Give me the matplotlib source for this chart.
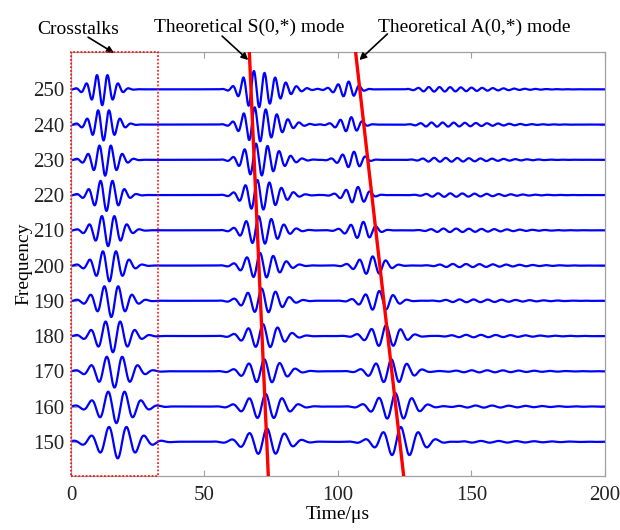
import numpy as np
import matplotlib
matplotlib.use('Agg')
import matplotlib.pyplot as plt
from matplotlib.patches import Rectangle

plt.rcParams['font.family'] = ['Liberation Serif', 'DejaVu Serif']

# excitation frequencies (kHz), one trace each, baseline = frequency
freqs = [150, 160, 170, 180, 190, 200, 210, 220, 230, 240, 250]
# crosstalk burst (centre us, amplitude)
ct_center = [17.5, 17.0, 16.3, 15.7, 15.1, 14.4, 13.9, 13.3, 12.8, 12.2, 11.7]
ct_amp = [4.7, 4.7, 4.6, 4.6, 4.6, 4.5, 4.5, 4.5, 4.5, 4.5, 4.5]
# S0 packet (centre us, amplitude, decay width us)
s0_center = [73.4, 72.9, 72.4, 71.9, 71.4, 70.8, 70.3, 69.8, 69.3, 68.8, 68.5]
s0_amp = [3.8, 3.6, 3.4, 3.4, 3.5, 3.6, 4.0, 4.3, 4.6, 4.9, 5.2]
s0_fall = [9.5, 9.5, 9.5, 9.5, 9.5, 9.5, 10.0, 10.5, 11.0, 11.5, 12.0]
# A0 packet
a0_center = [123.5, 121.5, 120.0, 118.0, 115.5, 113.0, 109.5, 107.5, 106.0, 105.0, 104.0]
a0_amp = [4.2, 3.8, 3.4, 3.1, 2.8, 2.6, 2.4, 2.3, 2.3, 2.1, 2.2]
a0_fall = [10.0, 9.0, 8.5, 8.0, 7.0, 6.5, 5.5, 5.0, 4.5, 4.5, 4.5]
# late low-level ringing after A0
ring_amp = [0.25, 0.3, 0.3, 0.35, 0.4, 0.45, 0.5, 0.5, 0.55, 0.6, 0.65]

# theoretical arrival lines: (time at top, time at bottom)
s0_line_t = [66.8, 73.9]
a0_line_t = [106.6, 124.6]
line_f = [260.5, 140.3]

crosstalk_end = 32.5

t = np.linspace(0, 200, 4001)


def packet(f, c, amp, fall, sign=1.0):
    rise = 1500.0 / f
    w = np.where(t < c, rise, fall)
    env = np.exp(-((t - c) / w) ** 2)
    return sign * amp * env * np.cos(2 * np.pi * f * (t - c) / 1000.0)


fig = plt.figure(figsize=(6.2, 5.3), dpi=100)
ax = fig.add_axes([0.1145, 0.1019, 0.8613, 0.7994])

for i, f in enumerate(freqs):
    y = packet(f, ct_center[i], ct_amp[i], 1500.0 / f, -1.0)
    y = y + packet(f, s0_center[i], s0_amp[i], s0_fall[i])
    y = y + packet(f, a0_center[i], a0_amp[i], a0_fall[i])
    y = y + packet(f, a0_center[i] + 30, ring_amp[i], 30.0) * (t > a0_center[i])
    ax.plot(t, f + y, color='#0000ff', lw=1.6, zorder=2)

ax.plot(s0_line_t, line_f, color='#ff0000', lw=2.4, zorder=3)
ax.plot(a0_line_t, line_f, color='#ff0000', lw=2.4, zorder=3)

ax.add_patch(Rectangle((0, 140.3), crosstalk_end, 260.5 - 140.3, fill=False,
                       edgecolor='#ff0000', lw=1.1, ls=(0, (1.2, 1.2)),
                       zorder=4, clip_on=False))

ax.set_xlim(0, 200)
ax.set_ylim(140.3, 260.5)
ax.set_xticks([0, 50, 100, 150, 200])
ax.set_yticks(freqs)
for s in ax.spines.values():
    s.set_color('#a0a0a0')
    s.set_linewidth(0.9)
ax.tick_params(direction='in', length=4, color='#a0a0a0', labelsize=15,
               top=True, right=True, labelcolor='#222222')
ax.tick_params(axis='x', pad=7)
ax.tick_params(axis='y', pad=5)
ax.set_xlabel('Time/μs', fontsize=14, labelpad=1)
ax.set_ylabel('Frequency', fontsize=14, labelpad=0)

arrow = dict(arrowstyle='-|>', color='black', lw=1.2, mutation_scale=10,
             shrinkA=0, shrinkB=0)
ax.annotate('', xy=(16.1, 260.3), xytext=(6.4, 264.8), arrowprops=arrow,
            annotation_clip=False)
ax.annotate('', xy=(66.4, 258.3), xytext=(56.6, 265.1), arrowprops=arrow,
            annotation_clip=False)
ax.annotate('', xy=(108.0, 258.3), xytext=(118.5, 265.7), arrowprops=arrow,
            annotation_clip=False)
ax.text(2.6, 265.6, 'Crosstalks', fontsize=14, ha='center', va='baseline')
ax.text(66.7, 266.4, 'Theoretical S(0,*) mode', fontsize=14, ha='center', va='baseline')
ax.text(151.0, 266.4, 'Theoretical A(0,*) mode', fontsize=14, ha='center', va='baseline')

fig.savefig('out.png', dpi=100)
